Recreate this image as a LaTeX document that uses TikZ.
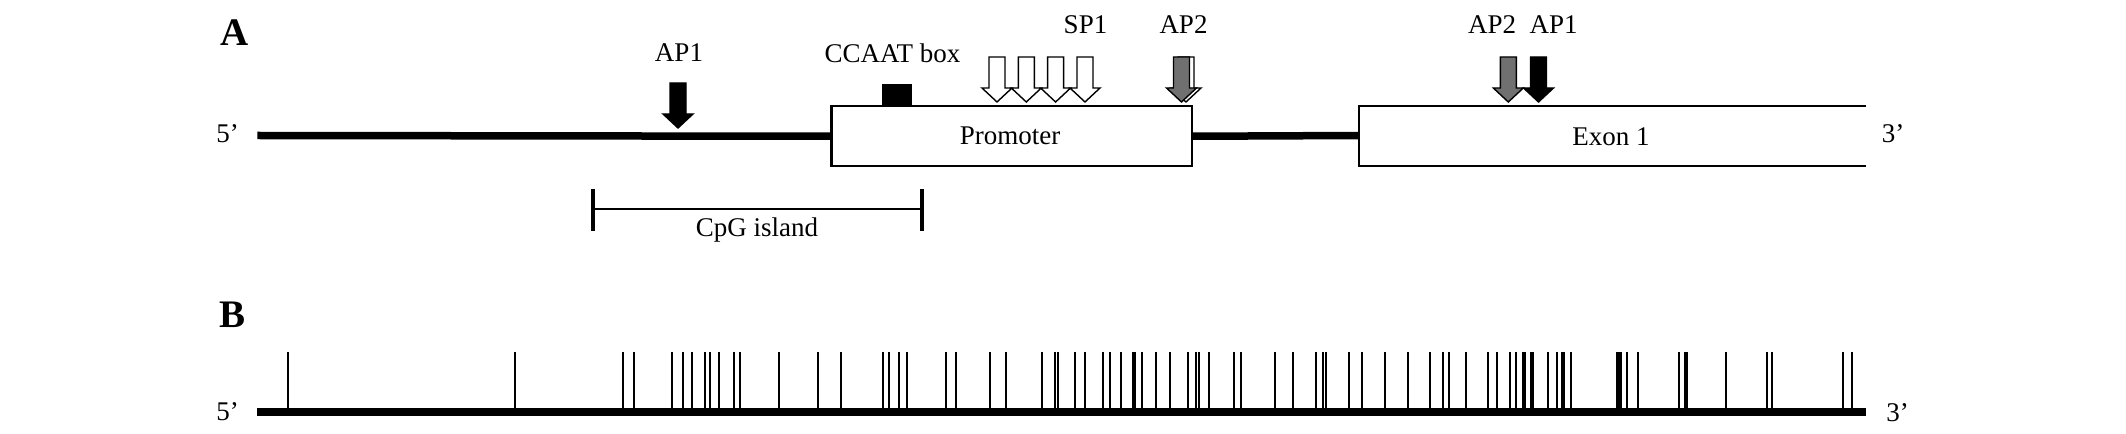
\documentclass[tikz,border=0pt]{standalone}
\usepackage{fontspec}
\setmainfont{Liberation Serif}
\definecolor{apgray}{RGB}{112,112,112}
\begin{document}
\begin{tikzpicture}[x=1bp,y=-1bp,
  lbl/.style={font=\fontsize{27bp}{30bp}\selectfont, inner sep=0pt, anchor=base},
  panel/.style={font=\fontsize{39bp}{42bp}\selectfont\bfseries, inner sep=0pt, anchor=base},
  dna/.style={line width=7.5bp},
  boxline/.style={line width=2.5bp},
  exline/.style={line width=2bp},
  cpg/.style={line width=2.5bp},
  tickline/.style={line width=2bp},
  tfarrow/.style={line width=1.4bp, draw=black, line join=miter},
  blackarrow/.style={tfarrow, fill=black},
  grayarrow/.style={tfarrow, fill=apgray},
  whitearrow/.style={tfarrow, fill=white},
  dnarrow/.pic={\path[pic actions] (-8,0) -- (8,0) -- (8,31) -- (15,31) -- (0,45) -- (-15,31) -- (-8,31) -- cycle;}
]
\useasboundingbox (0,0) rectangle (2126,434);

% ---------- Panel A ----------
\node[panel] (pA) at (235,46) {A};
\node[lbl] (fiveA) at (227.5,143) {5’};
\node[lbl] (threeA) at (1893,143) {3’};

\coordinate (a0) at (257.3,135.5);
\node[draw, boxline, fill=white, minimum width=360.7bp, minimum height=60bp, inner sep=0pt, anchor=north west] (prom) at (830,105) {};
\coordinate (exL) at (1359.3,135.5);
\draw[dna] (a0) -- (prom.west);
\draw[dna] (prom.east) -- (exL);

% exon box (open at right)
\coordinate (exTL) at (1359.3,106);
\coordinate (exBL) at (1359.3,165.7);
\coordinate (exTR) at (1866,106);
\coordinate (exBR) at (1866,165.7);
\draw[exline] (exTR) -- (exTL) -- (exBL) -- (exBR);

\node[lbl] (promtxt) at (1010,145) {Promoter};
\node[lbl] (extxt) at (1611,146) {Exon 1};

% CCAAT box
\node[fill=black, minimum width=30bp, minimum height=21bp, inner sep=0pt, anchor=south] (ccaat) at (897,105) {};
\node[lbl] (ccaattxt) at (892.5,63) {CCAAT box};

% AP1 upstream
\pic[blackarrow] at (678,83) {dnarrow};
\node[lbl] (ap1a) at (679,62) {AP1};

% SP1 arrows
\foreach \xx in {997,1026.3,1055.6,1085} {
  \pic[whitearrow] at (\xx,57) {dnarrow};
}
\node[lbl] (sp1) at (1085.5,33.3) {SP1};

% AP2 in promoter
\pic[whitearrow] at (1186,57) {dnarrow};
\pic[grayarrow] at (1181.5,57) {dnarrow};
\node[lbl] (ap2a) at (1183.5,33.3) {AP2};

% exon AP2 / AP1
\pic[grayarrow] at (1508.3,57) {dnarrow};
\pic[blackarrow] at (1538.5,57) {dnarrow};
\node[lbl] (ap2b) at (1492,33.3) {AP2};
\node[lbl] (ap1b) at (1553.5,33.3) {AP1};

% CpG island bracket
\coordinate (cpgL) at (592.7,209);
\coordinate (cpgR) at (922,209);
\draw[cpg] (cpgL) -- (cpgR);
\draw[line width=4bp] ([yshift=-22bp]cpgL) -- ([yshift=20bp]cpgL);
\draw[line width=4bp] ([yshift=-22bp]cpgR) -- ([yshift=20bp]cpgR);
\node[lbl] (cpgtxt) at (757,237) {CpG island};

% ---------- Panel B ----------
\node[panel] (pB) at (233,328) {B};
\node[lbl] (fiveB) at (227.5,421) {5’};
\node[lbl] (threeB) at (1897.5,422) {3’};
\coordinate (b0) at (257.3,412);
\coordinate (b1) at (1866,412);
\foreach \tx in {287.7,515.3,622.7,633.7,671.7,682.7,691.7,705,710,719,733.7,739.7,
779,818,841.3,882.7,888.7,898.7,907.3,946.3,956.3,990,1006.3,1041.7,1054.7,1058.3,1075,1084.7,1102.7,1110,1121,1132.7,1135,1142.3,1156,1169.7,1187.7,1196,1198.7,1209,1233.7,1241.3,
1274.7,1293.3,1316,1323.3,1325.7,1348.7,1362,1384.7,1408.3,1429.7,1443.3,1449.3,1466.3,1488,1497,1509.7,1515.7,1523.3,1525.3,1531,1533.3,1548.3,1556.7,1562,1564.3,1570.7,1617,1618.7,1620.7,1627,1638,1679.3,1685,1687.3,1725.7,1766.7,1771.7,1843.3,1852} {
  \draw[tickline] (\tx,352) -- (\tx,412);
}
\draw[line width=8bp] (b0) -- (b1);
\end{tikzpicture}
\end{document}
